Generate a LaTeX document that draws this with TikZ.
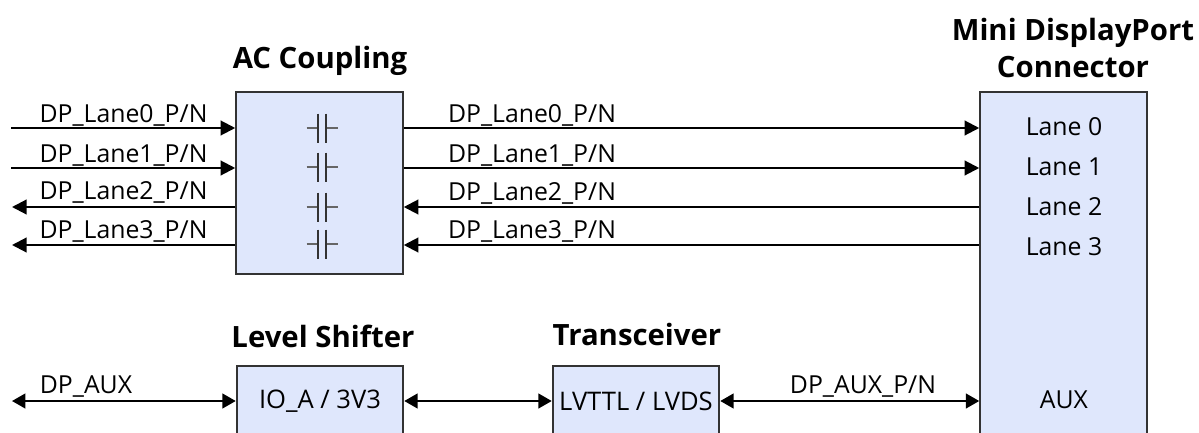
\documentclass[tikz,border=0pt]{standalone}
\usepackage{fontspec}
\setmainfont{Open Sans}
\usetikzlibrary{arrows.meta}
\definecolor{boxfill}{HTML}{DFE7FC}

\begin{document}
\begin{tikzpicture}[x=0.75pt, y=-0.75pt,
		box/.style={rectangle, draw=black!80, line width=1.4pt, fill=boxfill, minimum width=125pt, inner sep=0pt, font=\fontsize{19.2}{21}\selectfont},
		title/.style={font=\fontsize{22}{24}\selectfont\bfseries, inner sep=0pt, anchor=base},
		sig/.style={font=\fontsize{18.6}{20}\selectfont, inner sep=0pt, anchor=base},
		wire/.style={line width=1.6pt, black},
		single/.style={wire, -{Triangle[length=11pt, width=11pt]}},
		both/.style={wire, {Triangle[length=10pt, width=11pt]}-{Triangle[length=10pt, width=11pt]}},
		cap/.pic={
			\draw[black!60, line width=1pt] (-15.5,0) -- (-4,0) (4,0) -- (15.5,0);
			\draw[black!80, line width=1pt] (-4,-14.5) -- (-4,14.5) (4,-14.5) -- (4,14.5);
		}]
	\useasboundingbox (0,0) rectangle (1199,432);

	\coordinate (row0) at (0,128);
	\coordinate (row1) at (0,168);
	\coordinate (row2) at (0,207);
	\coordinate (row3) at (0,245);
	\coordinate (rowaux) at (0,401);

	\node[box, minimum height=136.5pt] (ac) at (319.5,183) {};
	\node[box, minimum height=312pt] (conn) at (1063.5,300) {};
	\node[box, minimum height=52.5pt] (lvl) at (320,401) {IO\_A / 3V3};
	\node[box, minimum height=52.5pt] (xcvr) at (636,401) {LVTTL / LVDS};

	\node[title] (actitle) at (320,68) {AC Coupling};
	\node[title] (conntitle) at (1073,40) {Mini DisplayPort};
	\node[title] (conntitle2) at (1073,77) {Connector};
	\node[title] (lvltitle) at (323,347) {Level Shifter};
	\node[title] (xcvrtitle) at (637,345) {Transceiver};

	\node[sig] (lane0) at (1064,135) {Lane 0};
	\node[sig] (lane1) at (1064,175) {Lane 1};
	\node[sig] (lane2) at (1064,215) {Lane 2};
	\node[sig] (lane3) at (1064,255) {Lane 3};
	\node[sig] (aux) at (1064,408) {AUX};

	\pic at (322,128) {cap};
	\pic at (322,167) {cap};
	\pic at (322,207) {cap};
	\pic at (322,244) {cap};

	\coordinate (in0) at (11,128);
	\coordinate (in1) at (11,168);
	\coordinate (in2) at (12,207);
	\coordinate (in3) at (12,245);
	\coordinate (inaux) at (12,401);

	\draw[single] (in0) -- (ac.west |- row0);
	\draw[single] (in1) -- (ac.west |- row1);
	\draw[single] (ac.west |- row2) -- (in2);
	\draw[single] (ac.west |- row3) -- (in3);
	\draw[single] (ac.east |- row0) -- (conn.west |- row0);
	\draw[single] (ac.east |- row1) -- (conn.west |- row1);
	\draw[single] (conn.west |- row2) -- (ac.east |- row2);
	\draw[single] (conn.west |- row3) -- (ac.east |- row3);

	\draw[both] (inaux) -- (lvl.west |- rowaux);
	\draw[both] (lvl.east |- rowaux) -- (xcvr.west |- rowaux);
	\draw[both] (xcvr.east |- rowaux) -- (conn.west |- rowaux);

	\node[sig] (l0) at (123.5,122) {DP\_Lane0\_P/N};
	\node[sig] (l1) at (123.5,162) {DP\_Lane1\_P/N};
	\node[sig] (l2) at (123.5,199) {DP\_Lane2\_P/N};
	\node[sig] (l3) at (123.5,238) {DP\_Lane3\_P/N};
	\node[sig] (r0) at (532,122) {DP\_Lane0\_P/N};
	\node[sig] (r1) at (532,162) {DP\_Lane1\_P/N};
	\node[sig] (r2) at (532,200) {DP\_Lane2\_P/N};
	\node[sig] (r3) at (532,238) {DP\_Lane3\_P/N};
	\node[sig] (dpaux) at (86,393) {DP\_AUX};
	\node[sig] (dpauxpn) at (863,393) {DP\_AUX\_P/N};
\end{tikzpicture}
\end{document}
